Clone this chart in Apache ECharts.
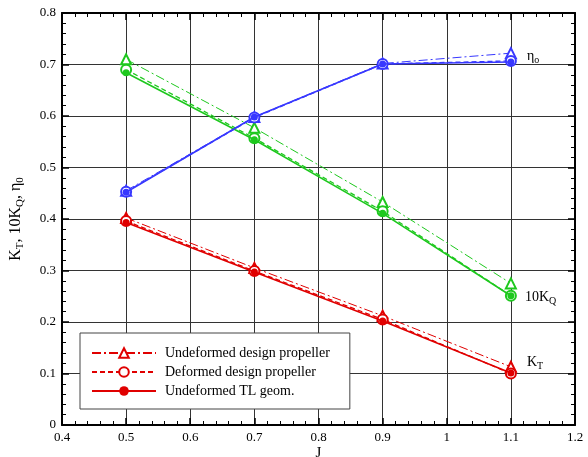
<!DOCTYPE html>
<html><head><meta charset="utf-8">
<script src="https://cdn.jsdelivr.net/npm/echarts@6/dist/echarts.min.js"></script>
<style>html,body{margin:0;padding:0;background:#fff}#c{width:588px;height:457px}</style>
</head><body><div id="c"></div>
<script>
const J = [0.5, 0.7, 0.9, 1.1];
const xTicks = ['0.4','0.5','0.6','0.7','0.8','0.9','1','1.1','1.2'];
const yTicks = ['0','0.1','0.2','0.3','0.4','0.5','0.6','0.7','0.8'];
// efficiency eta0
const etaUndeformed = [0.455, 0.598, 0.702, 0.722];
const etaDeformed   = [0.453, 0.597, 0.701, 0.707];
const etaTL         = [0.452, 0.598, 0.701, 0.705];
// 10 KQ
const kqUndeformed = [0.710, 0.577, 0.433, 0.275];
const kqDeformed   = [0.690, 0.557, 0.415, 0.251];
const kqTL         = [0.684, 0.554, 0.411, 0.251];
// KT
const ktUndeformed = [0.402, 0.305, 0.212, 0.113];
const ktDeformed   = [0.396, 0.299, 0.205, 0.100];
const ktTL         = [0.393, 0.297, 0.202, 0.101];
const names = ['Undeformed design propeller','Deformed design propeller','Undeformed TL geom.'];

const FONT = 'Liberation Serif';
const RED = '#e00000', GREEN = '#1ec81e', BLUE = '#3838ff';
const dashDot = [9,3,2,3];

function pts(vals, lab){
  return vals.map((v,i)=>{
    const d = {value:[J[i], v]};
    if (lab && i === vals.length-1) d.label = lab;
    return d;
  });
}
function mk(name, color, kind, vals, lab){
  const s = {name, type:'line', data: pts(vals, lab), z: kind===2?4:3, animation:false};
  if (kind===0){ s.symbol='emptyTriangle'; s.symbolSize=10; s.lineStyle={color, width:1, type:dashDot}; }
  else if (kind===1){ s.symbol='emptyCircle'; s.symbolSize=10; s.lineStyle={color, width:1.3, type:[5,3]}; }
  else { s.symbol='circle'; s.symbolSize=7; s.lineStyle={color, width:1.6, type:'solid'}; }
  s.itemStyle = {color, borderColor: color, borderWidth: kind===2?0:1.2};
  return s;
}
const rich = {
  t:{fontFamily:FONT, fontSize:14, color:'#000'},
  sub:{fontFamily:FONT, fontSize:10, color:'#000', verticalAlign:'bottom', padding:[8,0,0,0]}
};
const labEta = {show:true, position:'right', distance:10, offset:[0,3], formatter:'{t|η}{sub|o}', rich};
const labKq = {show:true, position:'right', distance:8, offset:[0,2], formatter:'{t|10K}{sub|Q}', rich};
const labKt = {show:true, position:'right', distance:10, offset:[0,-4], formatter:'{t|K}{sub|T}', rich};

const series = [
  mk('Undeformed design propeller', RED, 0, ktUndeformed, labKt),
  mk('Deformed design propeller', RED, 1, ktDeformed),
  mk('Undeformed TL geom.', RED, 2, ktTL),
  mk('kq0', GREEN, 0, kqUndeformed),
  mk('kq1', GREEN, 1, kqDeformed, labKq),
  mk('kq2', GREEN, 2, kqTL),
  mk('eta0', BLUE, 0, etaUndeformed, labEta),
  mk('eta1', BLUE, 1, etaDeformed),
  mk('eta2', BLUE, 2, etaTL)
];

const axisCommon = {
  axisLine:{show:true, onZero:false, lineStyle:{color:'#000', width:2}},
  axisTick:{show:true, inside:true, length:7, lineStyle:{color:'#000', width:1.5}},
  minorTick:{show:true, splitNumber:5, length:4, lineStyle:{color:'#000', width:1}},
};
const chart = echarts.init(document.getElementById('c'), null, {renderer:'canvas'});
chart.setOption({
  backgroundColor:'#fff',
  animation:false,
  grid:{left:62, right:13, top:13, bottom:32, containLabel:false, outerBoundsMode:'none'},
  legend:{
    data:names, orient:'vertical', left:80, top:333, width:267,
    padding:[13,20,11,11], itemGap:5, itemWidth:64, itemHeight:12,
    backgroundColor:'#fff', borderColor:'#444', borderWidth:1, borderRadius:0,
    textStyle:{fontFamily:FONT, fontSize:14, color:'#000', padding:[0,0,0,4]},
    selectedMode:false
  },
  xAxis:[
    Object.assign({type:'value', min:0.4, max:1.2, interval:0.1, position:'bottom',
      name:'J', nameLocation:'middle', nameGap:21, nameMoveOverlap:false,
      nameTextStyle:{fontFamily:FONT, fontSize:15, color:'#000'},
      axisLabel:{fontFamily:FONT, fontSize:13, color:'#000', margin:6,
        formatter:(v)=>xTicks[Math.round((v-0.4)*10)]},
      splitLine:{show:true, lineStyle:{color:'#333', width:1}}}, axisCommon),
    Object.assign({type:'value', min:0.4, max:1.2, interval:0.1, position:'top',
      axisLabel:{show:false}, splitLine:{show:false}}, axisCommon)
  ],
  yAxis:[
    Object.assign({type:'value', min:0, max:0.8, interval:0.1, position:'left',
      name:'{t|K}{sub|T}{t|, 10K}{sub|Q}{t|, η}{sub|0}', nameLocation:'middle', nameGap:36, nameRotate:90,
      nameMoveOverlap:false,
      nameTextStyle:{fontFamily:FONT, fontSize:16, color:'#000', rich:{
        t:{fontFamily:FONT, fontSize:16, color:'#000'},
        sub:{fontFamily:FONT, fontSize:11, color:'#000', verticalAlign:'bottom', padding:[9,0,0,0]}}},
      axisLabel:{fontFamily:FONT, fontSize:13, color:'#000', margin:6,
        formatter:(v)=>yTicks[Math.round(v*10)]},
      splitLine:{show:true, lineStyle:{color:'#333', width:1}}}, axisCommon),
    Object.assign({type:'value', min:0, max:0.8, interval:0.1, position:'right',
      axisLabel:{show:false}, splitLine:{show:false}}, axisCommon)
  ],
  series
});
</script></body></html>
